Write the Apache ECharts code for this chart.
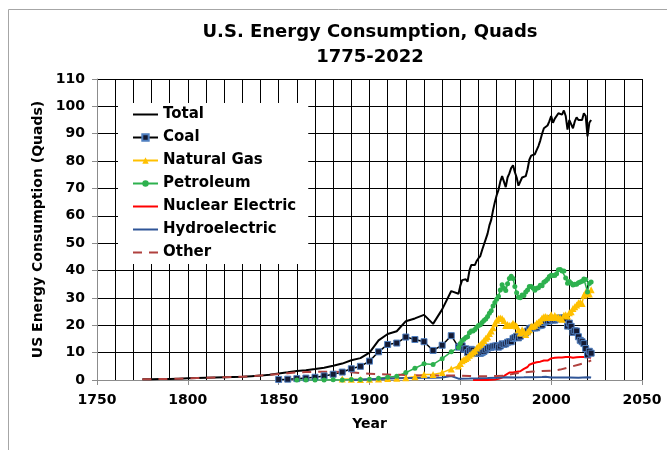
<!DOCTYPE html>
<html>
<head>
<meta charset="utf-8">
<script src="https://cdn.jsdelivr.net/npm/echarts@6/dist/echarts.min.js"></script>
<style>
html, body { margin: 0; padding: 0; background: #fff; }
#chart { width: 667px; height: 450px; }
</style>
</head>
<body>
<div id="chart"></div>
<script>
// values (quads)
// before 1949: every 5 years, from 1949 on: one value per year
const totalEarly = [[1775,0.25],[1780,0.3],[1785,0.35],[1790,0.4],[1795,0.5],[1800,0.6],[1805,0.7],[1810,0.8],
  [1815,0.9],[1820,1.0],[1825,1.1],[1830,1.2],[1835,1.4],[1840,1.6],[1845,1.9],[1850,2.4],[1855,2.8],[1860,3.3],
  [1865,3.6],[1870,4.0],[1875,4.5],[1880,5.2],[1885,6.0],[1890,7.2],[1895,8.0],[1900,10.0],[1905,14.5],[1910,16.8],
  [1915,17.8],[1920,21.5],[1925,22.5],[1930,23.8],[1935,20.5],[1940,25.8],[1945,32.5]];
const totalAnnual = [
  31.5,34.5,36.5,36.0,36.8,36.0,40.0,42.0,42.0,42.0,
  43.5,44.5,45.3,47.5,49.5,51.5,53.5,56.5,58.5,62.0,
  65.0,67.5,69.5,72.5,74.5,72.5,70.5,74.0,75.5,77.5,
  78.5,76.0,74.0,71.0,70.5,74.0,74.0,74.5,77.0,80.5,
  82.0,82.0,82.5,84.0,85.5,87.5,90.0,92.0,92.5,93.0,
  94.5,96.5,94.0,95.5,96.0,97.5,97.5,97.0,98.5,96.5,
  91.5,95.0,94.5,92.0,94.5,96.0,95.0,94.5,95.0,97.5,
  96.5,89.0,94.0,95.0];

const coalEarly = [[1850,0.2],[1855,0.3],[1860,0.5],[1865,0.7],[1870,1.0],[1875,1.5],[1880,2.1],[1885,2.9],
  [1890,4.1],[1895,5.0],[1900,6.9],[1905,10.3],[1910,13.0],[1915,13.5],[1920,15.7],[1925,14.8],[1930,14.0],
  [1935,10.8],[1940,12.7],[1945,16.2]];
const coalAnnual = [
  12.0,12.3,12.5,11.3,11.4,10.0,10.8,11.2,10.9,10.0,
  9.8,9.8,9.7,10.0,10.4,11.0,11.6,12.0,11.9,12.3,
  12.4,12.5,12.0,12.4,13.2,13.0,13.2,13.8,14.0,14.0,
  15.2,15.5,16.0,15.4,16.0,17.0,17.4,17.3,17.9,18.7,
  19.0,19.1,19.0,19.1,19.8,19.9,20.1,21.0,21.4,21.6,
  21.6,22.5,21.9,21.9,22.3,22.5,22.7,22.4,22.7,22.4,
  19.7,20.8,19.6,17.4,18.0,17.9,15.8,14.5,14.0,13.3,
  11.5,9.2,10.5,9.8];

const gasEarly = [[1885,0.35],[1890,0.25],[1895,0.15],[1900,0.25],[1905,0.37],[1910,0.54],[1915,0.67],
  [1920,0.82],[1925,1.2],[1930,2.0],[1935,2.0],[1940,2.7],[1945,4.0]];
const gasAnnual = [
  5.1,6.0,7.0,7.5,7.9,8.3,9.0,9.6,10.2,10.7,
  11.7,12.4,13.0,13.7,14.4,15.3,15.8,17.0,17.9,19.1,
  20.7,21.8,22.5,22.7,22.5,21.7,19.9,20.3,19.9,20.0,
  20.7,20.2,19.7,18.4,17.2,18.4,17.7,16.6,17.6,18.4,
  19.6,19.6,20.0,20.7,21.2,21.7,22.7,23.1,23.2,22.8,
  22.9,23.8,22.8,23.6,22.9,22.9,22.6,22.2,23.7,23.8,
  23.4,24.6,24.9,26.1,26.8,27.4,28.2,28.4,28.0,31.0,
  32.1,31.5,31.4,33.0];

const petroleumEarly = [[1860,0.0],[1865,0.02],[1870,0.01],[1875,0.02],[1880,0.1],[1885,0.04],[1890,0.16],
  [1895,0.17],[1900,0.23],[1905,0.61],[1910,1.0],[1915,1.4],[1920,2.7],[1925,4.3],[1930,5.9],[1935,5.7],
  [1940,7.8],[1945,10.3]];
const petroleumAnnual = [
  11.9,13.3,14.4,14.9,15.5,15.8,17.3,17.9,17.9,18.5,
  19.3,19.9,20.2,21.0,21.7,22.3,23.2,24.4,25.3,27.0,
  28.3,29.5,30.6,32.9,34.8,33.5,32.7,35.2,37.1,37.9,
  37.1,34.2,31.9,30.2,30.1,31.1,30.9,32.2,32.9,34.2,
  34.2,33.6,32.8,33.5,33.7,34.6,34.4,35.7,36.2,36.8,
  37.8,38.3,38.2,38.2,38.8,40.3,40.4,39.8,39.8,37.3,
  35.4,36.0,35.4,34.7,35.0,35.0,35.5,35.8,36.1,36.9,
  36.7,32.2,35.3,35.8];

// nuclear: one value per year from 1957
const nuclearAnnual = [
  0,0,0,0.01,0.02,0.03,0.04,0.04,0.04,0.06,
  0.09,0.14,0.15,0.24,0.41,0.58,0.91,1.27,1.9,2.11,
  2.7,3.02,2.78,2.74,3.01,3.13,3.2,3.55,4.08,4.38,
  4.75,5.59,5.6,6.1,6.4,6.5,6.4,6.7,7.1,7.1,
  6.6,7.1,7.6,7.9,8.0,8.1,8.0,8.2,8.2,8.2,
  8.5,8.4,8.4,8.4,8.3,8.1,8.2,8.3,8.3,8.4,
  8.4,8.4,8.5,8.3,8.1,8.1];

const hydroData = [[1890,0.02],[1895,0.09],[1900,0.25],[1905,0.39],[1910,0.54],[1915,0.66],[1920,0.74],
  [1925,0.70],[1930,0.79],[1935,0.83],[1940,0.88],[1945,1.44],[1949,0.5],[1955,0.55],[1960,0.6],[1965,0.7],
  [1970,0.85],[1975,1.0],[1980,0.95],[1985,0.97],[1990,1.0],[1995,1.06],[1997,1.21],[2000,0.94],[2005,0.92],
  [2010,0.89],[2015,0.85],[2020,0.98],[2022,0.87]];

const otherData = [[1775,0.25],[1780,0.3],[1785,0.35],[1790,0.4],[1795,0.5],[1800,0.6],[1805,0.7],[1810,0.8],
  [1815,0.9],[1820,1.0],[1825,1.1],[1830,1.2],[1835,1.4],[1840,1.6],[1845,1.9],[1850,2.2],[1855,2.5],[1860,2.8],
  [1865,2.9],[1870,3.0],[1875,3.0],[1880,3.0],[1885,2.9],[1890,2.8],[1895,2.5],[1900,2.3],[1905,2.1],[1910,2.0],
  [1915,1.9],[1920,1.8],[1925,1.7],[1930,1.6],[1935,1.6],[1940,1.7],[1945,1.6],[1949,1.6],[1955,1.45],[1960,1.35],
  [1965,1.4],[1970,1.5],[1975,1.6],[1980,2.4],[1985,2.8],[1990,3.1],[1995,3.3],[2000,3.4],[2005,3.8],[2010,4.7],
  [2015,5.6],[2020,6.5],[2022,7.2]];

const FONT = 'DejaVu Sans';

function yearly(startYear, values) {
  return values.map((v, i) => [startYear + i, v]);
}

const chart = echarts.init(document.getElementById('chart'), null, { renderer: 'canvas' });

const noIcon = { opacity: 0 }; // legend: line only, no marker

chart.setOption({
  animation: false,
  backgroundColor: '#fff',
  graphic: [
    { type: 'rect', silent: true, z: -10,
      shape: { x: 8.5, y: 9.5, width: 720, height: 520 },
      style: { fill: 'none', stroke: '#a6a6a6', lineWidth: 1 } },
    { type: 'text', x: 370, y: 32,
      style: { text: 'U.S. Energy Consumption, Quads', font: 'bold 18px "DejaVu Sans"', fill: '#000', align: 'center', verticalAlign: 'middle' } },
    { type: 'text', x: 370, y: 57,
      style: { text: '1775-2022', font: 'bold 18px "DejaVu Sans"', fill: '#000', align: 'center', verticalAlign: 'middle' } }
  ],
  grid: { left: 97, right: 25, top: 79, bottom: 70 },
  legend: {
    orient: 'vertical',
    left: 118,
    top: 103,
    padding: [4, 12, 4, 14],
    backgroundColor: '#fff',
    itemWidth: 25,
    itemHeight: 8,
    itemGap: 8,
    textStyle: { fontFamily: FONT, fontWeight: 'bold', fontSize: 15, color: '#000' },
    data: [
      { name: 'Total', itemStyle: noIcon },
      'Coal',
      'Natural Gas',
      'Petroleum',
      { name: 'Nuclear Electric', itemStyle: noIcon },
      { name: 'Hydroelectric', itemStyle: noIcon },
      { name: 'Other', itemStyle: noIcon }
    ]
  },
  xAxis: {
    type: 'value',
    min: 1750,
    max: 2050,
    interval: 50,
    name: 'Year',
    nameLocation: 'middle',
    nameGap: 37,
    nameTextStyle: { fontFamily: FONT, fontWeight: 'bold', fontSize: 14, color: '#000' },
    axisLine: { onZero: false, lineStyle: { color: '#8c8c8c', width: 1 } },
    axisTick: { show: true, length: 5, lineStyle: { color: '#8c8c8c' } },
    axisLabel: {
      fontFamily: FONT, fontWeight: 'bold', fontSize: 14, color: '#000', margin: 13,
      formatter: v => String(v)
    },
    splitLine: { show: true, showMinLine: false, lineStyle: { color: '#000', width: 1 } },
    minorTick: { show: false, splitNumber: 5 },
    minorSplitLine: { show: true, lineStyle: { color: '#000', width: 1 } }
  },
  yAxis: {
    type: 'value',
    min: 0,
    max: 110,
    interval: 10,
    name: 'US Energy Consumption (Quads)',
    nameLocation: 'middle',
    nameGap: 50,
    nameTextStyle: { fontFamily: FONT, fontWeight: 'bold', fontSize: 14, color: '#000' },
    axisLine: { show: true, lineStyle: { color: '#8c8c8c', width: 1 } },
    axisTick: { show: true, length: 5, lineStyle: { color: '#8c8c8c' } },
    axisLabel: { fontFamily: FONT, fontWeight: 'bold', fontSize: 14, color: '#000', margin: 12 },
    splitLine: { show: true, showMinLine: false, lineStyle: { color: '#000', width: 1 } }
  },
  series: [
    {
      name: 'Total', type: 'line', symbol: 'none',
      data: totalEarly.concat(yearly(1949, totalAnnual)),
      lineStyle: { color: '#000', width: 2 }, itemStyle: { color: '#000' }
    },
    {
      name: 'Coal', type: 'line', symbol: 'rect', symbolSize: 6,
      data: coalEarly.concat(yearly(1949, coalAnnual)),
      lineStyle: { color: '#000', width: 1.5 },
      itemStyle: { color: '#141a33', borderColor: '#4f7fc0', borderWidth: 1 }
    },
    {
      name: 'Natural Gas', type: 'line', symbol: 'triangle', symbolSize: 7,
      data: gasEarly.concat(yearly(1949, gasAnnual)),
      lineStyle: { color: '#ffc000', width: 1.5 }, itemStyle: { color: '#ffc000' }
    },
    {
      name: 'Petroleum', type: 'line', symbol: 'circle', symbolSize: 5,
      data: petroleumEarly.concat(yearly(1949, petroleumAnnual)),
      lineStyle: { color: '#2db14e', width: 1.5 }, itemStyle: { color: '#2db14e' }
    },
    {
      name: 'Nuclear Electric', type: 'line', symbol: 'none',
      data: yearly(1957, nuclearAnnual),
      lineStyle: { color: '#ff0000', width: 2 }, itemStyle: { color: '#ff0000' }
    },
    {
      name: 'Hydroelectric', type: 'line', symbol: 'none',
      data: hydroData,
      lineStyle: { color: '#2f5597', width: 2 }, itemStyle: { color: '#2f5597' }
    },
    {
      name: 'Other', type: 'line', symbol: 'none',
      data: otherData,
      lineStyle: { color: '#b0413e', width: 2, type: [9, 7] }, itemStyle: { color: '#b0413e' }
    }
  ]
});
</script>
</body>
</html>
